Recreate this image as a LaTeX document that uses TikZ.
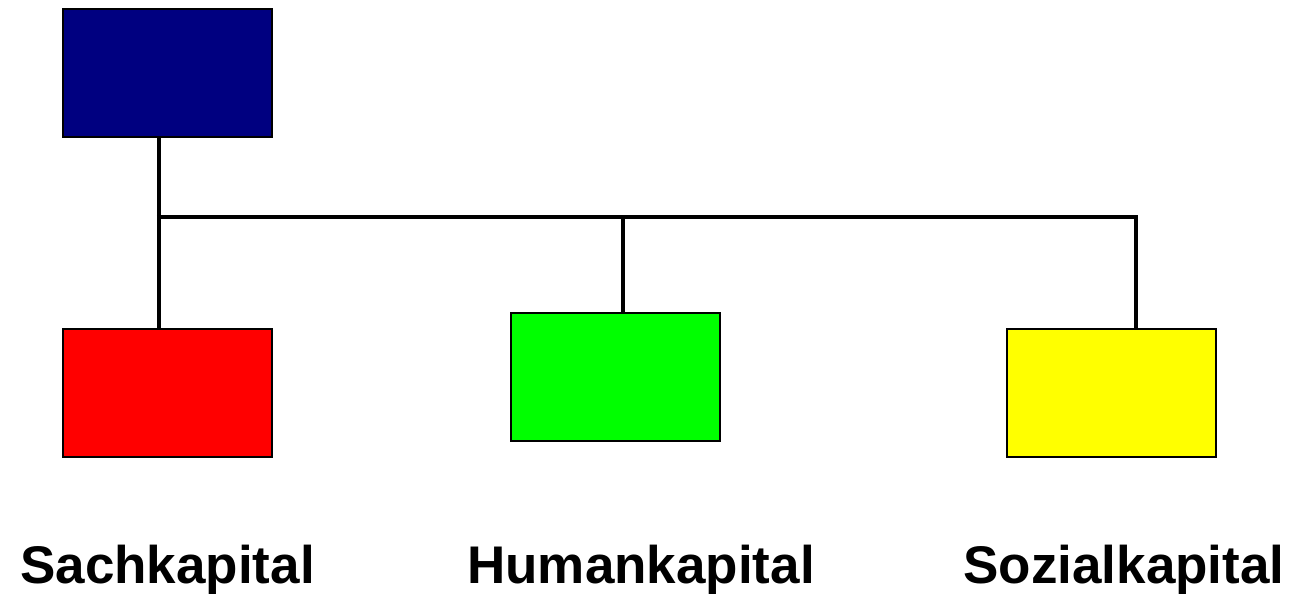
\documentclass[tikz,border=0pt]{standalone}
\usepackage{fontspec}
\setmainfont{Liberation Sans}
\definecolor{navyblue}{RGB}{0,0,128}
\definecolor{pureRed}{RGB}{255,0,0}
\definecolor{pureGreen}{RGB}{0,255,0}
\definecolor{pureYellow}{RGB}{255,255,0}
\tikzset{
  box/.style={draw=black, line width=2pt, minimum width=209pt, minimum height=128pt, inner sep=0pt},
  conn/.style={line width=4.5pt, black},
  lbl/.style={anchor=base, inner sep=0pt, font=\fontsize{53}{60}\selectfont\bfseries}
}
\begin{document}
\begin{tikzpicture}[x=1pt,y=-1pt]
\useasboundingbox (0,0) rectangle (1298,594);
\node[box, fill=navyblue] (top) at (167.5,73) {};
\node[box, fill=pureRed] (sach) at (167.5,393) {};
\node[box, fill=pureGreen] (human) at (615.5,377) {};
\node[box, fill=pureYellow] (sozial) at (1111,393) {};
\coordinate (j1) at (159,217);
\coordinate (j2) at (623,217);
\coordinate (j3) at (1136,217);
\draw[conn] (j1 |- top.south) -- (j1 |- sach.north);
\draw[conn] ([xshift=-2.25pt]j1) -- ([xshift=2.25pt]j3);
\draw[conn] (j2) -- (j2 |- human.north);
\draw[conn] (j3) -- (j3 |- sozial.north);
\node[lbl] (t1) at (167.5,583) {Sachkapital};
\node[lbl] (t2) at (641,583) {Humankapital};
\node[lbl] (t3) at (1124,583) {Sozialkapital};
\end{tikzpicture}
\end{document}
